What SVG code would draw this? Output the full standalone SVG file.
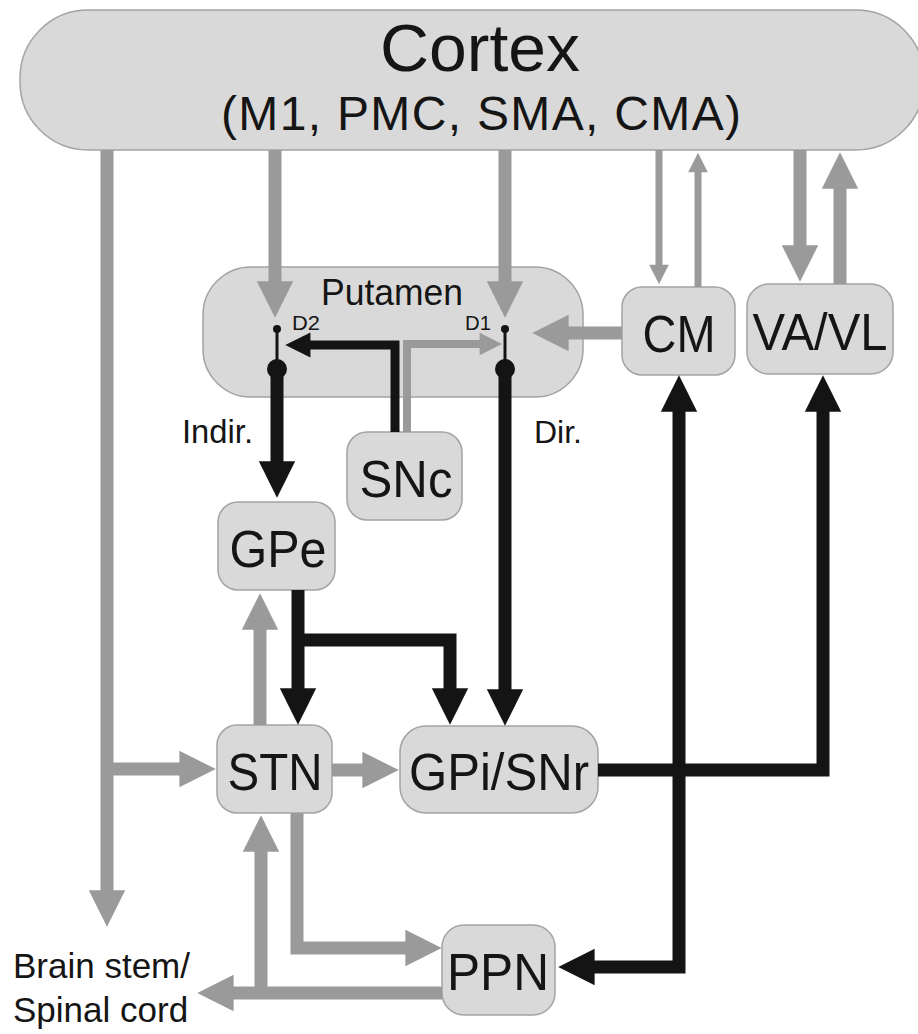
<svg xmlns="http://www.w3.org/2000/svg" width="918" height="1034" viewBox="0 0 918 1034">
<style>
.node{fill:#d9d9d9;stroke:#a3a3a3;stroke-width:1.5}
.t{font-family:"Liberation Sans",Arial,sans-serif;fill:#151515}
.lbl{font-size:52px;text-anchor:middle}
.g{fill:none;stroke:#9a9a9a;stroke-width:13;marker-end:url(#arrG)}
.gt{fill:none;stroke:#9a9a9a;stroke-width:7;marker-end:url(#arrG)}
.k{fill:none;stroke:#141414;stroke-width:13;marker-end:url(#arrK)}
</style>
<defs>
<marker id="arrG" markerUnits="strokeWidth" markerWidth="2.8" markerHeight="2.8" viewBox="0 0 2.8 2.8" refX="0.05" refY="1.4" orient="auto-start-reverse" overflow="visible">
<path d="M0,0 L2.8,1.4 L0,2.8 z" fill="#9a9a9a"/>
</marker>
<marker id="arrK" markerUnits="strokeWidth" markerWidth="2.8" markerHeight="2.8" viewBox="0 0 2.8 2.8" refX="0.05" refY="1.4" orient="auto-start-reverse" overflow="visible">
<path d="M0,0 L2.8,1.4 L0,2.8 z" fill="#141414"/>
</marker>
</defs>
<rect width="918" height="1034" fill="#ffffff"/>

<g id="cortex">
<rect class="node" x="20" y="10" width="904" height="140" rx="68"/>
<text class="t" x="480" y="71" font-size="67" text-anchor="middle" textLength="200" lengthAdjust="spacingAndGlyphs">Cortex</text>
<text class="t" x="481" y="130" font-size="48" text-anchor="middle" textLength="520">(M1, PMC, SMA, CMA)</text>
</g>

<g id="putamen">
<rect class="node" x="203" y="267" width="380" height="130" rx="48"/>
<text class="t" x="392" y="305" font-size="37" text-anchor="middle" textLength="142" lengthAdjust="spacingAndGlyphs">Putamen</text>
<text class="t" x="292" y="330" font-size="21" textLength="28" lengthAdjust="spacingAndGlyphs">D2</text>
<text class="t" x="465" y="330" font-size="21" textLength="26" lengthAdjust="spacingAndGlyphs">D1</text>
</g>

<g id="cm">
<rect class="node" x="622" y="287" width="113" height="88" rx="20"/>
<text class="t lbl" x="679" y="352" textLength="73" lengthAdjust="spacingAndGlyphs">CM</text>
</g>

<g id="vavl">
<rect class="node" x="747" y="284" width="146" height="90" rx="22"/>
<text class="t lbl" x="820" y="350" textLength="135" lengthAdjust="spacingAndGlyphs">VA/VL</text>
</g>

<g id="snc">
<rect class="node" x="347" y="432" width="115" height="88" rx="20"/>
<text class="t lbl" x="406" y="497" textLength="93" lengthAdjust="spacingAndGlyphs">SNc</text>
</g>

<g id="gpe">
<rect class="node" x="218" y="502" width="117" height="88" rx="20"/>
<text class="t lbl" x="278" y="567" textLength="97" lengthAdjust="spacingAndGlyphs">GPe</text>
</g>

<g id="stn">
<rect class="node" x="217" y="725" width="115" height="88" rx="20"/>
<text class="t lbl" x="275" y="790" textLength="95" lengthAdjust="spacingAndGlyphs">STN</text>
</g>

<g id="gpisnr">
<rect class="node" x="400" y="726" width="198" height="87" rx="26"/>
<text class="t lbl" x="499" y="790" textLength="180" lengthAdjust="spacingAndGlyphs">GPi/SNr</text>
</g>

<g id="ppn">
<rect class="node" x="442" y="925" width="113" height="90" rx="22"/>
<text class="t lbl" x="498" y="990" textLength="102" lengthAdjust="spacingAndGlyphs">PPN</text>
</g>

<g id="labels">
<text class="t" x="182" y="443" font-size="34" textLength="71" lengthAdjust="spacingAndGlyphs">Indir.</text>
<text class="t" x="534" y="443" font-size="32">Dir.</text>
<text class="t" x="13" y="978" font-size="35">Brain stem/</text>
<text class="t" x="13" y="1022" font-size="35">Spinal cord</text>
</g>

<g id="connectors">
<path class="g" d="M107,150 V891"/>
<path class="g" d="M107,769 H180"/>
<path class="g" d="M275,150 V282"/>
<path class="g" d="M505,150 V282"/>
<path class="gt" d="M659,150 V265"/>
<path class="gt" d="M698,287 V172"/>
<path class="g" d="M800,150 V246"/>
<path class="g" d="M840,284 V188"/>
<path class="g" d="M622,333 H568"/>
<path class="g" d="M332,770 H363"/>
<path class="g" d="M260,725 V629"/>
<path class="g" d="M297,813 V948 H406"/>
<path class="g" d="M442,993 H233"/>
<path class="g" d="M261,993 V851"/>
<path fill="none" stroke="#9a9a9a" stroke-width="8" marker-end="url(#arrG)" d="M407,432 V344 H480"/>
<path fill="none" stroke="#141414" stroke-width="9" marker-end="url(#arrK)" d="M395,432 V345 H310"/>
<circle cx="277" cy="329" r="4" fill="#141414"/>
<line x1="277" y1="329" x2="277" y2="368" stroke="#141414" stroke-width="3"/>
<circle cx="277" cy="369" r="10" fill="#141414"/>
<circle cx="505" cy="329" r="4" fill="#141414"/>
<line x1="505" y1="329" x2="505" y2="368" stroke="#141414" stroke-width="3"/>
<circle cx="505" cy="369" r="10" fill="#141414"/>
<path class="k" d="M277,369 V462"/>
<path class="k" d="M505,369 V690"/>
<path class="k" d="M298,590 V689"/>
<path class="k" d="M298,640 H450 V689"/>
<path class="k" d="M598,770 H823 V411"/>
<path class="k" marker-start="url(#arrK)" d="M594,967 H679 V411"/>
</g>
</svg>
